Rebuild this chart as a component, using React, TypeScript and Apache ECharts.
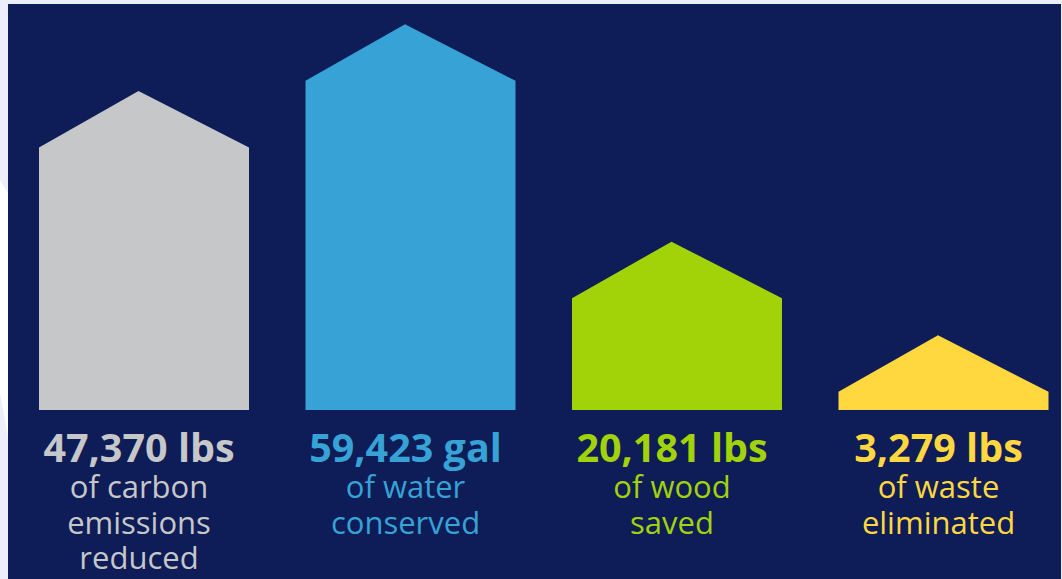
import React, { useEffect, useRef } from "react";
import * as echarts from "echarts";

const categories = ["carbon", "water", "wood", "waste"];
const values = [47370, 59423, 20181, 3279];
const units = ["lbs", "gal", "lbs", "lbs"];
const descriptions = [
  ["of carbon", "emissions", "reduced"],
  ["of water", "conserved"],
  ["of wood", "saved"],
  ["of waste", "eliminated"],
];
const colors = ["#c6c7c9", "#36a2d5", "#a2d208", "#ffd73f"];

const W = 1062;
const H = 579;
const NAVY = "#0e1c57";
const LAVENDER = "#eceffb";
const BAR_HALF = 105;
const ROOF = 56.5;
const PEAK_OFFSET = 5.5;
const TEXT_OFFSET = 5;
const FONT = "'Open Sans', sans-serif";

export default function App() {
  const ref = useRef<HTMLDivElement>(null);
  useEffect(() => {
    document.body.style.margin = "0";
    const chart = echarts.init(ref.current!, null, { renderer: "svg" });
    const option: any = {
      animation: false,
      backgroundColor: LAVENDER,
      grid: { left: 144, right: 118.5, top: 77.6, bottom: 169 },
      xAxis: {
        type: "category",
        data: categories,
        boundaryGap: false,
        show: false,
      },
      yAxis: { type: "value", min: 0, max: 60000, show: false, splitLine: { show: false } },
      graphic: [
        {
          type: "polygon",
          z: 0,
          shape: { points: [[0, 180], [8, 193], [8, 437], [0, 393]] },
          style: { fill: "#ffffff" },
        },
        {
          type: "rect",
          z: 1,
          shape: { x: 8, y: 4, width: 1053, height: 575 },
          style: { fill: NAVY },
        },
      ],
      series: [
        {
          type: "custom",
          z: 5,
          clip: false,
          encode: { x: 0, y: 1 },
          data: values.map((v, i) => [i, v]),
          renderItem: (params: any, api: any) => {
            const i = params.dataIndex;
            const idx = api.value(0);
            const val = api.value(1);
            const top = api.coord([idx, val]);
            const base = api.coord([idx, 0]);
            const cx = top[0];
            const color = colors[i];
            const shoulderY = top[1];
            const peakY = shoulderY - ROOF;
            const label =
              "{v|" +
              values[i].toLocaleString("en-US") +
              " " +
              units[i] +
              "}\n" +
              descriptions[i].map((d) => "{d|" + d + "}").join("\n");
            return {
              type: "group",
              children: [
                {
                  type: "polygon",
                  shape: {
                    points: [
                      [cx - BAR_HALF, base[1]],
                      [cx - BAR_HALF, shoulderY],
                      [cx - PEAK_OFFSET, peakY],
                      [cx + BAR_HALF, shoulderY],
                      [cx + BAR_HALF, base[1]],
                    ],
                  },
                  style: { fill: color },
                },
                {
                  type: "text",
                  x: cx - TEXT_OFFSET,
                  y: base[1] + 15,
                  style: {
                    text: label,
                    fill: color,
                    fontFamily: FONT,
                    align: "center",
                    verticalAlign: "top",
                    rich: {
                      v: {
                        fill: color,
                        fontFamily: FONT,
                        fontWeight: "bold",
                        fontSize: 39.5,
                        lineHeight: 43.7,
                        align: "center",
                      },
                      d: {
                        fill: color,
                        fontFamily: FONT,
                        fontSize: 31,
                        lineHeight: 35.3,
                        align: "center",
                      },
                    },
                  },
                },
              ],
            };
          },
        },
      ],
    };
    chart.setOption(option);
    return () => chart.dispose();
  }, []);
  return <div ref={ref} style={{ width: W, height: H }} />;
}
